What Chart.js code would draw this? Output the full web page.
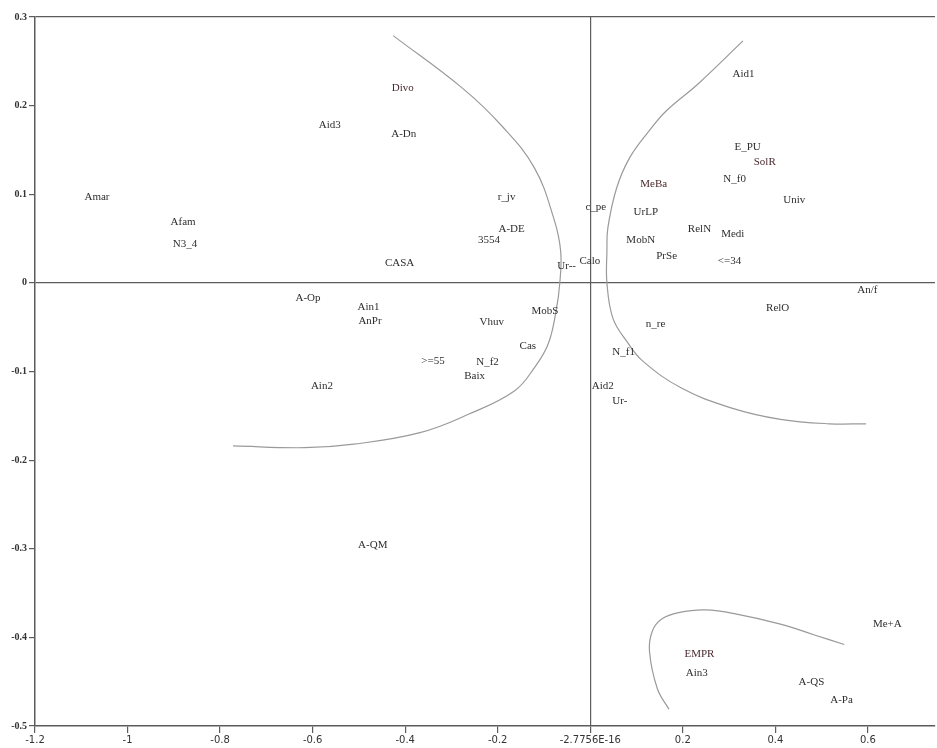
<!DOCTYPE html>
<html>
<head>
<meta charset="utf-8">
<title>Correspondence map</title>
<script src="https://cdn.jsdelivr.net/npm/chart.js@4.4.1/dist/chart.umd.min.js"></script>
<style>
  html, body { margin: 0; padding: 0; background: #fff; }
  #wrap { width: 937px; height: 748px; position: relative; }
</style>
</head>
<body>
<div id="wrap"><canvas id="chart"></canvas></div>
<script>
// category labels and their coordinates on the two factor axes
const pointLabels = [
  'Amar', 'Afam', 'N3_4', 'Aid3', 'Divo', 'A-Dn', 'r_jv', 'A-DE', '3554', 'CASA',
  'c_pe', 'Calo', 'Ur--', 'MeBa', 'UrLP', 'MobN', 'PrSe', 'RelN', 'Medi', '<=34',
  'Aid1', 'E_PU', 'SolR', 'N_f0', 'Univ', 'An/f', 'RelO', 'n_re', 'N_f1', 'Aid2',
  'Ur-', 'A-Op', 'Ain1', 'AnPr', 'Vhuv', 'MobS', 'Cas', '>=55', 'N_f2', 'Baix',
  'Ain2', 'A-QM', 'Me+A', 'EMPR', 'Ain3', 'A-QS', 'A-Pa'
];
const pointX = [
  -1.066, -0.880, -0.876, -0.563, -0.405, -0.403, -0.181, -0.170, -0.219, -0.412,
  0.012, -0.001, -0.051, 0.137, 0.120, 0.109, 0.165, 0.236, 0.308, 0.301,
  0.331, 0.340, 0.377, 0.312, 0.441, 0.599, 0.405, 0.141, 0.072, 0.027,
  0.064, -0.610, -0.479, -0.476, -0.213, -0.098, -0.135, -0.340, -0.222, -0.250,
  -0.580, -0.470, 0.642, 0.236, 0.230, 0.478, 0.543
];
const pointY = [
  0.097, 0.069, 0.044, 0.178, 0.220, 0.168, 0.097, 0.061, 0.048, 0.022,
  0.086, 0.025, 0.019, 0.112, 0.080, 0.048, 0.030, 0.061, 0.055, 0.025,
  0.235, 0.153, 0.136, 0.117, 0.093, -0.008, -0.029, -0.046, -0.078, -0.116,
  -0.133, -0.017, -0.027, -0.043, -0.044, -0.032, -0.071, -0.088, -0.089, -0.105,
  -0.116, -0.296, -0.385, -0.419, -0.440, -0.450, -0.471
];

// hand-drawn grouping curves
const curveLeftX = [-0.426, -0.277, -0.191, -0.121, -0.079, -0.064, -0.066, -0.074, -0.091, -0.121, -0.164, -0.262, -0.368, -0.511, -0.617, -0.772];
const curveLeftY = [0.279, 0.220, 0.177, 0.130, 0.073, 0.036, -0.001, -0.032, -0.069, -0.096, -0.122, -0.148, -0.169, -0.182, -0.186, -0.184];
const curveRightX = [0.330, 0.234, 0.164, 0.128, 0.085, 0.057, 0.038, 0.036, 0.036, 0.049, 0.079, 0.113, 0.198, 0.304, 0.411, 0.517, 0.596];
const curveRightY = [0.273, 0.225, 0.194, 0.172, 0.141, 0.107, 0.062, 0.036, 0.0, -0.040, -0.066, -0.088, -0.119, -0.141, -0.154, -0.159, -0.159];
const curveLowX = [0.170, 0.145, 0.128, 0.134, 0.155, 0.191, 0.249, 0.319, 0.411, 0.483, 0.549];
const curveLowY = [-0.481, -0.458, -0.416, -0.393, -0.379, -0.372, -0.369, -0.374, -0.385, -0.397, -0.408];

// axis ticks
const xTickValues = [-1.2, -1, -0.8, -0.6, -0.4, -0.2, 0, 0.2, 0.4, 0.6];
const xTickLabels = ['-1.2', '-1', '-0.8', '-0.6', '-0.4', '-0.2', '-2.7756E-16', '0.2', '0.4', '0.6'];
const yTickValues = [-0.5, -0.4, -0.3, -0.2, -0.1, 0, 0.1, 0.2, 0.3];
const yTickLabels = ['-0.5', '-0.4', '-0.3', '-0.2', '-0.1', '0', '0.1', '0.2', '0.3'];

const toXY = (xs, ys) => xs.map((x, i) => ({ x: x, y: ys[i] }));

const AXIS_COLOR = '#5c5c5c';
const CURVE_COLOR = '#9a9a9a';
const redLabels = ['Divo', 'SolR', 'MeBa', 'EMPR'];

// writes each category name at its point (no markers in the original)
const textLabels = {
  id: 'textLabels',
  afterDatasetsDraw(chart) {
    const meta = chart.getDatasetMeta(0);
    const ctx = chart.ctx;
    ctx.save();
    ctx.font = '11px "Liberation Serif", serif';
    ctx.textAlign = 'center';
    ctx.textBaseline = 'middle';
    meta.data.forEach((el, i) => {
      const name = pointLabels[i];
      ctx.fillStyle = redLabels.includes(name) ? '#4a2a2e' : '#2e2e2e';
      ctx.fillText(name, el.x, el.y);
    });
    ctx.restore();
  }
};

const curveStyle = {
  showLine: true,
  borderColor: CURVE_COLOR,
  borderWidth: 1.2,
  pointRadius: 0,
  tension: 0.4,
  fill: false
};

new Chart(document.getElementById('chart'), {
  type: 'scatter',
  data: {
    datasets: [
      { label: 'categories', data: toXY(pointX, pointY), pointRadius: 0, showLine: false },
      Object.assign({ label: 'left', data: toXY(curveLeftX, curveLeftY) }, curveStyle),
      Object.assign({ label: 'right', data: toXY(curveRightX, curveRightY) }, curveStyle),
      Object.assign({ label: 'low', data: toXY(curveLowX, curveLowY) }, curveStyle)
    ]
  },
  options: {
    responsive: true,
    maintainAspectRatio: false,
    animation: false,
    layout: { padding: { top: 17, right: 2, left: 0, bottom: 0 } },
    plugins: {
      legend: { display: false },
      tooltip: { enabled: false },
      title: { display: false }
    },
    scales: {
      x: {
        type: 'linear',
        min: -1.2,
        max: 0.745,
        afterBuildTicks: scale => { scale.ticks = xTickValues.map(v => ({ value: v })); },
        afterFit: scale => { scale.height = 22; },
        ticks: {
          autoSkip: false,
          maxRotation: 0,
          padding: 1,
          color: '#333',
          font: { family: '"DejaVu Sans", sans-serif', size: 10 },
          callback: (v) => xTickLabels[xTickValues.indexOf(v)]
        },
        grid: {
          color: c => (c.tick && Math.abs(c.tick.value) < 1e-9) ? AXIS_COLOR : 'rgba(0,0,0,0)',
          tickColor: AXIS_COLOR,
          tickLength: 7,
          lineWidth: 1.2
        },
        border: { display: true, color: AXIS_COLOR, width: 1.5 }
      },
      y: {
        type: 'linear',
        min: -0.5,
        max: 0.3,
        afterBuildTicks: scale => { scale.ticks = yTickValues.map(v => ({ value: v })); },
        afterFit: scale => { scale.width = 35; },
        ticks: {
          autoSkip: false,
          padding: 2,
          color: '#333',
          font: { family: '"Liberation Serif", serif', size: 10, weight: 'bold' },
          callback: (v) => yTickLabels[yTickValues.indexOf(v)]
        },
        grid: {
          color: c => (c.tick && (Math.abs(c.tick.value) < 1e-9 || Math.abs(c.tick.value - 0.3) < 1e-9)) ? AXIS_COLOR : 'rgba(0,0,0,0)',
          tickColor: AXIS_COLOR,
          tickLength: 6,
          lineWidth: 1.2
        },
        border: { display: true, color: AXIS_COLOR, width: 1.5 }
      }
    }
  },
  plugins: [textLabels]
});
</script>
</body>
</html>
